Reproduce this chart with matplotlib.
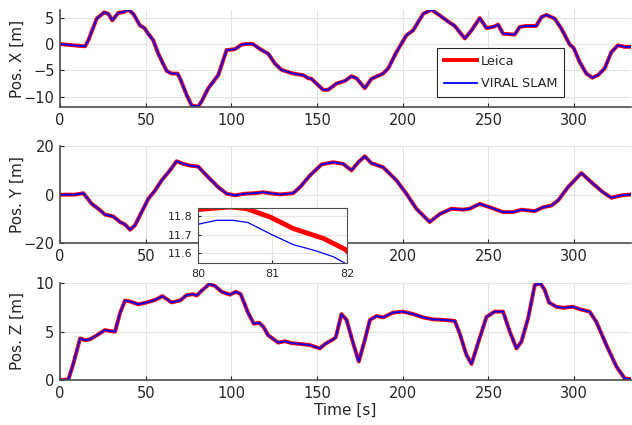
import numpy as np
import matplotlib.pyplot as plt

# time stamps [s] and positions [m]
t_x = [0, 1, 14.6, 16.5, 21.4, 25.8, 28.2, 30.5, 34, 36.9, 39.8, 42.8, 46.6, 49.2,
       51.5, 54.4, 57.3, 62.2, 65.1, 68.6, 70, 73.9, 76.8, 80.6, 82.6, 86.5, 92.3,
       97.2, 102, 106, 110.8, 112.7, 117.6, 121.5, 125.4, 129.3, 136, 141.9, 144.8,
       146.7, 150.6, 153.5, 156.5, 161.3, 166.2, 170, 173, 177.8, 181.7, 188.5,
       191.5, 196.3, 202.1, 206, 211.9, 216.7, 221.6, 225.5, 230.3, 236.2, 240.1,
       244.9, 248.8, 252.7, 255.6, 258.5, 265.3, 268.2, 272.1, 277.9, 280.9, 283.8,
       288.6, 292.5, 297.4, 299.7, 303.2, 307.1, 310.6, 313.9, 317.8, 321.7, 325.5,
       329.4, 333.3]
pos_x = [0, 0, -0.4, 0.75, 4.9, 6.1, 5.8, 4.55, 6.0, 6.1, 6.6, 5.8, 3.6, 3.1,
         2.0, 0.75, -1.8, -5.1, -5.6, -5.6, -6.5, -9.7, -11.7, -11.9, -10.9, -8.4, -5.9,
         -1.1, -0.95, -0.06, 0.1, 0.0, -1.1, -1.8, -3.7, -4.9, -5.6, -5.9, -6.5,
         -6.6, -7.8, -8.7, -8.7, -7.5, -7.0, -6.1, -6.5, -8.4, -6.6, -5.6,
         -4.6, -1.5, 1.7, 2.65, 5.8, 6.6, 5.5, 4.55, 3.5, 1.1, 2.65,
         5.0, 3.1, 3.3, 3.75, 2.0, 1.85, 3.3, 3.5, 3.5, 5.2, 5.6,
         4.9, 3.0, -0.06, -0.7, -3.4, -5.6, -6.4, -5.9, -4.6, -1.5, -0.2,
         -0.5, -0.5]

t_y = [0, 1, 8.7, 13.6, 18.5, 22.3, 26.2, 31.1, 35, 37.9, 40.8, 43.7, 47.6, 51.5,
       55.4, 59.3, 64.1, 68, 71.9, 75.8, 80.6, 86.5, 92.3, 97.2, 102, 107.9, 113.3,
       118.6, 122.4, 128.3, 136, 140, 145.8, 152.6, 159.4, 165.2, 170.1, 174, 177.8,
       181.7, 188.5, 196.3, 202.1, 207.9, 215.7, 221.6, 228.4, 235.2, 239.1, 244.9,
       250.7, 258.5, 264.3, 269.2, 277, 281.8, 286.7, 290.6, 296.4, 304.2, 311,
       316.8, 321.7, 327.5, 333.3]
pos_y = [0, 0, 0, 0.6, -3.8, -5.8, -8.2, -9.0, -11.3, -12.3, -14.5, -12.7, -7.2, -1.7,
         1.7, 5.9, 10.0, 13.8, 12.7, 12.0, 11.6, 7.2, 3.1, 0.4, -0.3, 0.4, 0.6,
         1.0, 0.6, 0.1, 0.6, 3.1, 7.9, 12.5, 13.4, 12.7, 10.0, 13.4, 15.8,
         13.0, 11.3, 5.9, 0.4, -5.8, -11.3, -8.0, -5.8, -6.2, -5.8, -3.8,
         -5.2, -7.2, -7.2, -6.2, -6.8, -5.2, -4.5, -2.4, 3.1, 8.9, 4.5,
         1.0, -1.3, -0.3, 0.1]

t_z = [0, 1, 4.9, 7.8, 11.7, 14.6, 17.5, 21.4, 26.2, 29.2, 32.1, 35, 37.9, 40.8,
       45.7, 50.6, 55.4, 59.7, 65.1, 70, 73.9, 77.7, 79.7, 82.6, 87.1, 90.4, 94.3,
       99.1, 102.6, 105.4, 109.8, 113.1, 116.2, 118.6, 121.5, 127.3, 131.2, 135.1,
       140.9, 145.8, 151.6, 154.5, 159.4, 160.9, 164.2, 167.2, 171, 174.3, 177.8,
       180.8, 184.7, 188.5, 194.3, 200.2, 206, 211.9, 217.7, 223.5, 230.3, 233.2,
       237.1, 240.1, 243.9, 248.8, 253.6, 258.5, 262.4, 266.3, 269.2, 273.1, 277,
       280.3, 282.8, 285.3, 289.6, 293.5, 299.3, 303.2, 309, 312.9, 318.8, 324.6,
       329.4, 333.3]
pos_z = [0, 0, 0.07, 1.7, 4.3, 4.1, 4.2, 4.6, 5.15, 5.05, 4.98, 6.9, 8.2, 8.1,
         7.8, 8.0, 8.25, 8.65, 8.0, 8.2, 8.75, 8.85, 8.7, 9.2, 9.9, 9.7, 9.1,
         8.8, 9.1, 8.85, 6.9, 5.8, 5.9, 5.5, 4.6, 3.85, 4.0, 3.8,
         3.7, 3.6, 3.25, 3.7, 4.2, 4.4, 6.8, 6.2, 3.8, 1.9, 4.1,
         6.2, 6.6, 6.45, 6.95, 7.05, 6.8, 6.45, 6.25, 6.2, 6.1, 4.8,
         2.6, 1.65, 3.8, 6.5, 7.05, 7.05, 5.0, 3.25, 3.95, 6.35, 9.8,
         9.95, 9.3, 8.0, 7.55, 7.45, 7.55, 7.3, 7.05, 6.0, 3.6, 1.4,
         0.17, 0.07]

# zoomed window of Y between 80 s and 82 s
t_leica_zoom = [80, 80.43, 80.65, 80.97, 81.28, 81.69, 81.98, 82]
y_leica_zoom = [11.837, 11.851, 11.842, 11.796, 11.733, 11.678, 11.618, 11.61]
t_slam_zoom = [80, 80.25, 80.47, 80.67, 81.01, 81.28, 81.6, 81.82, 81.98, 82]
y_slam_zoom = [11.756, 11.778, 11.778, 11.766, 11.696, 11.645, 11.609, 11.578, 11.542, 11.538]

dark = '#262626'
plt.rcParams['font.family'] = 'DejaVu Sans'
plt.rcParams['text.color'] = dark
plt.rcParams['axes.labelcolor'] = dark
plt.rcParams['xtick.color'] = dark
plt.rcParams['ytick.color'] = dark

fig = plt.figure(figsize=(6.32, 4.25), dpi=100)

rows = [(t_x, pos_x, 'Pos. X [m]', (-12, 6.5), [-10, -5, 0, 5], 0.748),
        (t_y, pos_y, 'Pos. Y [m]', (-20, 20), [-20, 0, 20], 0.428),
        (t_z, pos_z, 'Pos. Z [m]', (0, 10), [0, 5, 10], 0.106)]

axes = []
for t, p, label, ylim, yticks, bottom in rows:
    ax = fig.add_axes([0.095, bottom, 0.903, 0.228])
    ax.plot(t, p, color='red', lw=2.8, label='Leica', solid_joinstyle='round')
    ax.plot(t, p, color='blue', lw=1.3, label='VIRAL SLAM')
    ax.set_xlim(0, 333)
    ax.set_ylim(*ylim)
    ax.set_yticks(yticks)
    ax.set_xticks(np.arange(0, 301, 50))
    ax.set_ylabel(label, fontsize=11)
    ax.yaxis.set_label_coords(-0.062, 0.5)
    ax.grid(True, color='#e3e3e3', lw=0.8)
    ax.set_axisbelow(True)
    for s in ['top', 'right']:
        ax.spines[s].set_visible(False)
    for s in ['left', 'bottom']:
        ax.spines[s].set_color('#4d4d4d')
        ax.spines[s].set_linewidth(1.2)
    ax.tick_params(direction='in', length=3, labelsize=10.5, pad=4)
    axes.append(ax)

axes[2].set_xlabel('Time [s]', fontsize=11, labelpad=2)

leg = axes[0].legend(loc='upper left', bbox_to_anchor=(0.661, 0.608), fontsize=9.3,
                     fancybox=False, edgecolor=dark, framealpha=1,
                     handlelength=2.6, borderpad=0.5, labelspacing=0.75,
                     handletextpad=0.3, borderaxespad=0)
leg.get_frame().set_linewidth(0.8)

ins = fig.add_axes([0.313, 0.381, 0.236, 0.129])
ins.plot(t_leica_zoom, y_leica_zoom, color='red', lw=3.5)
ins.plot(t_slam_zoom, y_slam_zoom, color='blue', lw=0.9)
ins.set_xlim(80, 82)
ins.set_ylim(11.544, 11.844)
ins.set_xticks([80, 81, 82])
ins.set_yticks([11.6, 11.7, 11.8])
ins.grid(True, color='#e3e3e3', lw=0.8)
ins.tick_params(direction='in', length=2, labelsize=8, pad=4)
for s in ins.spines.values():
    s.set_color('#4d4d4d')

plt.savefig('out.png', dpi=100)
